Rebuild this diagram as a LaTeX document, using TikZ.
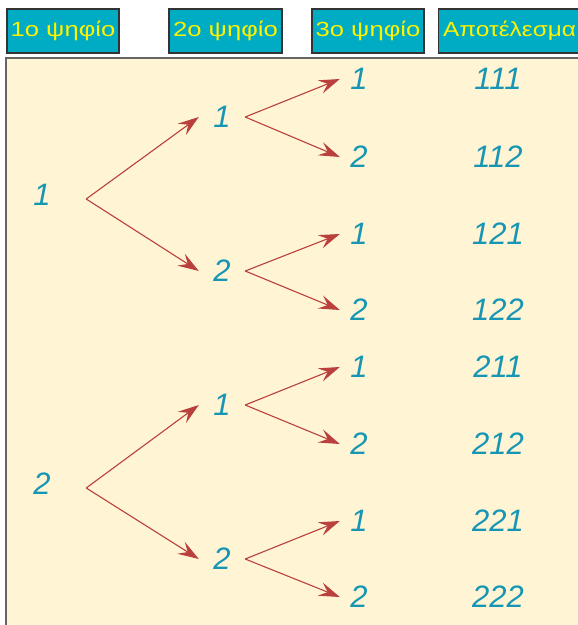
\documentclass[tikz,border=0pt]{standalone}
\usepackage{fontspec}
\setmainfont{Liberation Sans}
\usetikzlibrary{arrows.meta}
\definecolor{headfill}{RGB}{0,172,196}
\definecolor{headtext}{RGB}{255,242,0}
\definecolor{cream}{RGB}{255,244,212}
\definecolor{digitcol}{RGB}{22,150,180}
\definecolor{arrowcol}{RGB}{185,64,60}
\newcommand{\digitfont}{\fontsize{31}{31}\selectfont\itshape}
\newcommand{\headfont}{\fontsize{20.5}{20.5}\selectfont}
\newcommand{\headtxt}[2][1.25]{\scalebox{#1}[1]{#2}}

\begin{document}
\begin{tikzpicture}[x=1pt,y=-1pt,
  head/.style={fill=headfill,draw=black!80,line width=1.2pt,text=headtext,
    font=\headfont,minimum height=44pt,inner sep=0pt},
  digit/.style={text=digitcol,font=\digitfont,inner sep=0pt},
  arr/.style={arrowcol,line width=1.1pt,
    -{Stealth[length=21pt,width=14pt,inset=8pt]}}]
  \useasboundingbox (0,0) rectangle (578,625);
  \clip (0,0) rectangle (578,625);
  % panel
  \fill[cream] (5,57) rectangle (600,640);
  \draw[black!60,line width=2pt] (6,640) -- (6,58) -- (600,58);
  % column headings
  \node[head,minimum width=112pt] (h1) at (63,31) {\headtxt{1ο ψηφίο}};
  \node[head,minimum width=113pt] (h2) at (225.5,31) {\headtxt{2ο ψηφίο}};
  \node[head,minimum width=112pt] (h3) at (368,31) {\headtxt{3ο ψηφίο}};
  \node[head,anchor=west,minimum width=142pt] (h4) at (438,31) {\headtxt[1.19]{Αποτέλεσμα}};
  % first digit
  \foreach \a/\y in {1/195,2/484}{
    \node[digit,minimum width=88pt] (d\a) at (42,\y) {\a};
  }
  % second digit
  \foreach \a/\b/\y in {1/1/117,1/2/271,2/1/405,2/2/559}{
    \node[digit,minimum width=46pt] (d\a\b) at (222,\y) {\b};
    \draw[arr] ([yshift=-4pt]d\a.east) -- (d\a\b.west);
  }
  % third digit and result
  \foreach \a/\b/\c/\y in {1/1/1/79,1/1/2/157,1/2/1/234,1/2/2/310,
                           2/1/1/367,2/1/2/444,2/2/1/521,2/2/2/597}{
    \node[digit,minimum width=38pt] (d\a\b\c) at (359,\y) {\c};
    \node[digit] (r\a\b\c) at (498,\y) {\a\b\c};
    \draw[arr] (d\a\b.east) -- (d\a\b\c.west);
  }
\end{tikzpicture}
\end{document}
